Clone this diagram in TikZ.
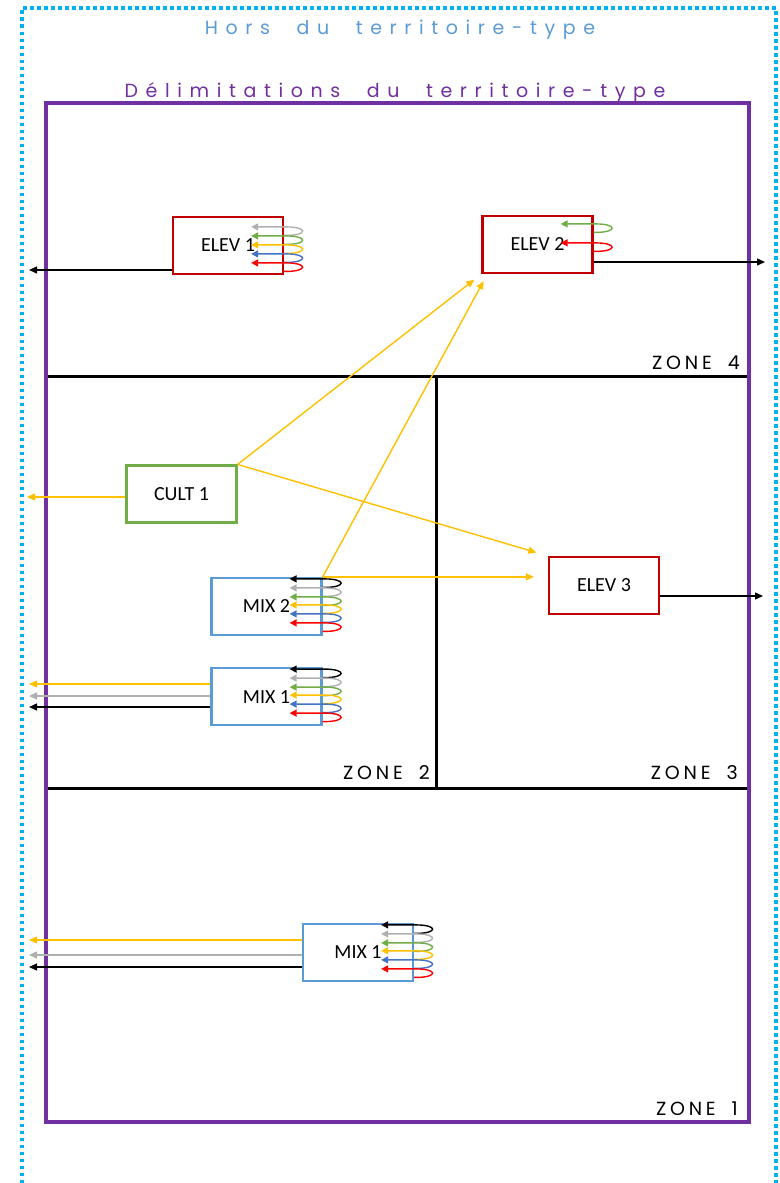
\documentclass[tikz,border=0pt]{standalone}
\usepackage{fontspec}
\setmainfont{Carlito}
\newfontfamily\titlefont[LetterSpace=40, WordSpace=2.1]{Poppins}
\newfontfamily\zonefont[LetterSpace=20]{Poppins}
\usepackage{xcolor}
\usetikzlibrary{arrows.meta, positioning, calc}

\definecolor{elevred}{HTML}{C00000}
\definecolor{cultgreen}{HTML}{70AD47}
\definecolor{mixblue}{HTML}{5B9BD5}
\definecolor{flowyellow}{HTML}{FFC000}
\definecolor{flowgray}{HTML}{B0B0B0}
\definecolor{loopblue}{HTML}{4472C4}
\definecolor{loopred}{HTML}{FF0000}
\definecolor{terrpurple}{HTML}{7030A0}
\definecolor{horsblue}{HTML}{00B0F0}
\definecolor{titleblue}{HTML}{5B9BD5}

\begin{document}
\begin{tikzpicture}[
  x=1pt, y=-1pt,
  unit/.style={
    draw, line width=2.2pt,
    minimum width=110pt, minimum height=57pt,
    inner sep=0pt, font=\fontsize{20}{22}\selectfont
  },
  elev/.style={unit, draw=elevred},
  cult/.style={unit, draw=cultgreen},
  mix/.style={unit, draw=mixblue},
  flow/.style={-{Triangle[length=8pt,width=7pt]}, line width=1.4pt},
  recycle/.style={{Triangle[length=7pt,width=7pt]}-, line width=1.4pt},
  zone/.style={font=\zonefont\fontsize{19}{20}\selectfont,
    anchor=base east, inner sep=0pt},
  title/.style={font=\titlefont\fontsize{19}{20}\selectfont},
  border/.style={line width=3pt}
]
\useasboundingbox (0,0) rectangle (779,1183);

% ---- Hors du territoire-type (dotted frame) ----
\draw[horsblue, line width=3.5pt, dash pattern=on 3.5pt off 3.5pt]
  (22,1183) -- (22,8) -- (776,8) -- (776,1183);
\node[title, text=titleblue] (hors) at (400,30) {Hors du territoire-type};

% ---- Zone lines ----
\draw[border] (46,376) -- (749,376);
\draw[border] (46,788) -- (749,788);
\draw[border] (436,376) -- (436,788);

% ---- Territoire-type ----
\draw[terrpurple, line width=3.5pt] (46,103) rectangle (749,1122);
\node[title, text=terrpurple] (delim) at (395,93)
  {Délimitations du territoire-type};

% ---- Zone labels ----
\node[zone] (Z4) at (740,369) {ZONE\hspace{16pt}4};
\node[zone] (Z2) at (430,779) {ZONE\hspace{16pt}2};
\node[zone] (Z3) at (738,779) {ZONE\hspace{16pt}3};
\node[zone] (Z1) at (738,1115) {ZONE\hspace{16pt}1};

% ---- Units ----
\node[elev] (E1) at (228,245.5) {ELEV 1};
\node[elev] (E2) at (537.5,244.5) {ELEV 2};
\node[cult] (C1) at (181.5,494) {CULT 1};
\node[mix] (M2) at (266.5,606.5) {MIX 2};
\node[mix, below=31pt of M2] (M1) {MIX 1};
\node[elev] (E3) at (604,585.5) {ELEV 3};
\node[mix] (M1b) at (358,952.5) {MIX 1};

% ---- Free ends outside the territory ----
\coordinate (outE1) at (29,270);
\coordinate (outE2) at (765,262);
\coordinate (outE3) at (763,596);
\coordinate (outC1) at (27,497);
\coordinate (outM1y) at (29,684);
\coordinate (outM1g) at (29,696);
\coordinate (outM1k) at (29,707);
\coordinate (outM1by) at (29,940);
\coordinate (outM1bg) at (29,955);
\coordinate (outM1bk) at (29,967);

% ---- Self loops ----
\foreach \c/\dy in {flowgray/11, cultgreen/20, flowyellow/29,
                    loopblue/38, loopred/47}
  \draw[recycle, \c] ($(E1.north east)+(-33,\dy)$) -- ++(35,0)
    .. controls +(22,0) and +(22,0) .. ++(0,8.5) -- ++(-2,0);
\foreach \c/\dy in {cultgreen/9, loopred/28}
  \draw[recycle, \c] ($(E2.north east)+(-33,\dy)$) -- ++(35,0)
    .. controls +(22,0) and +(22,0) .. ++(0,8.5) -- ++(-2,0);
\foreach \n in {M2, M1, M1b}
  \foreach \c/\dy in {black/2, flowgray/11, cultgreen/20, flowyellow/28,
                      loopblue/37, loopred/46}
    \draw[recycle, \c] ($(\n.north east)+(-33,\dy)$) -- ++(35,0)
      .. controls +(22,0) and +(22,0) .. ++(0,8.5) -- ++(-2,0);

% ---- Flows inside the territory ----
\draw[flow, flowyellow, shorten >=9pt] (C1.north east) -- (E2.south west);
\draw[flow, flowyellow, shorten >=12pt] (C1.north east) -- (E3.north west);
\draw[flow, flowyellow, shorten >=8pt] (M2.north east) -- ([xshift=6pt]E2.south west);
\draw[flow, flowyellow, shorten >=14pt] (M2.north east) -- (M2.north east -| E3.west);

% ---- Flows leaving the territory ----
\draw[flow] (E1.west |- outE1) -- (outE1);
\draw[flow] (E2.east |- outE2) -- (outE2);
\draw[flow] (E3.east |- outE3) -- (outE3);
\draw[flow, flowyellow] (C1.west |- outC1) -- (outC1);
\draw[flow, flowyellow] (M1.west |- outM1y) -- (outM1y);
\draw[flow, flowgray] (M1.west |- outM1g) -- (outM1g);
\draw[flow] (M1.west |- outM1k) -- (outM1k);
\draw[flow, flowyellow] (M1b.west |- outM1by) -- (outM1by);
\draw[flow, flowgray] (M1b.west |- outM1bg) -- (outM1bg);
\draw[flow] (M1b.west |- outM1bk) -- (outM1bk);

\end{tikzpicture}
\end{document}
